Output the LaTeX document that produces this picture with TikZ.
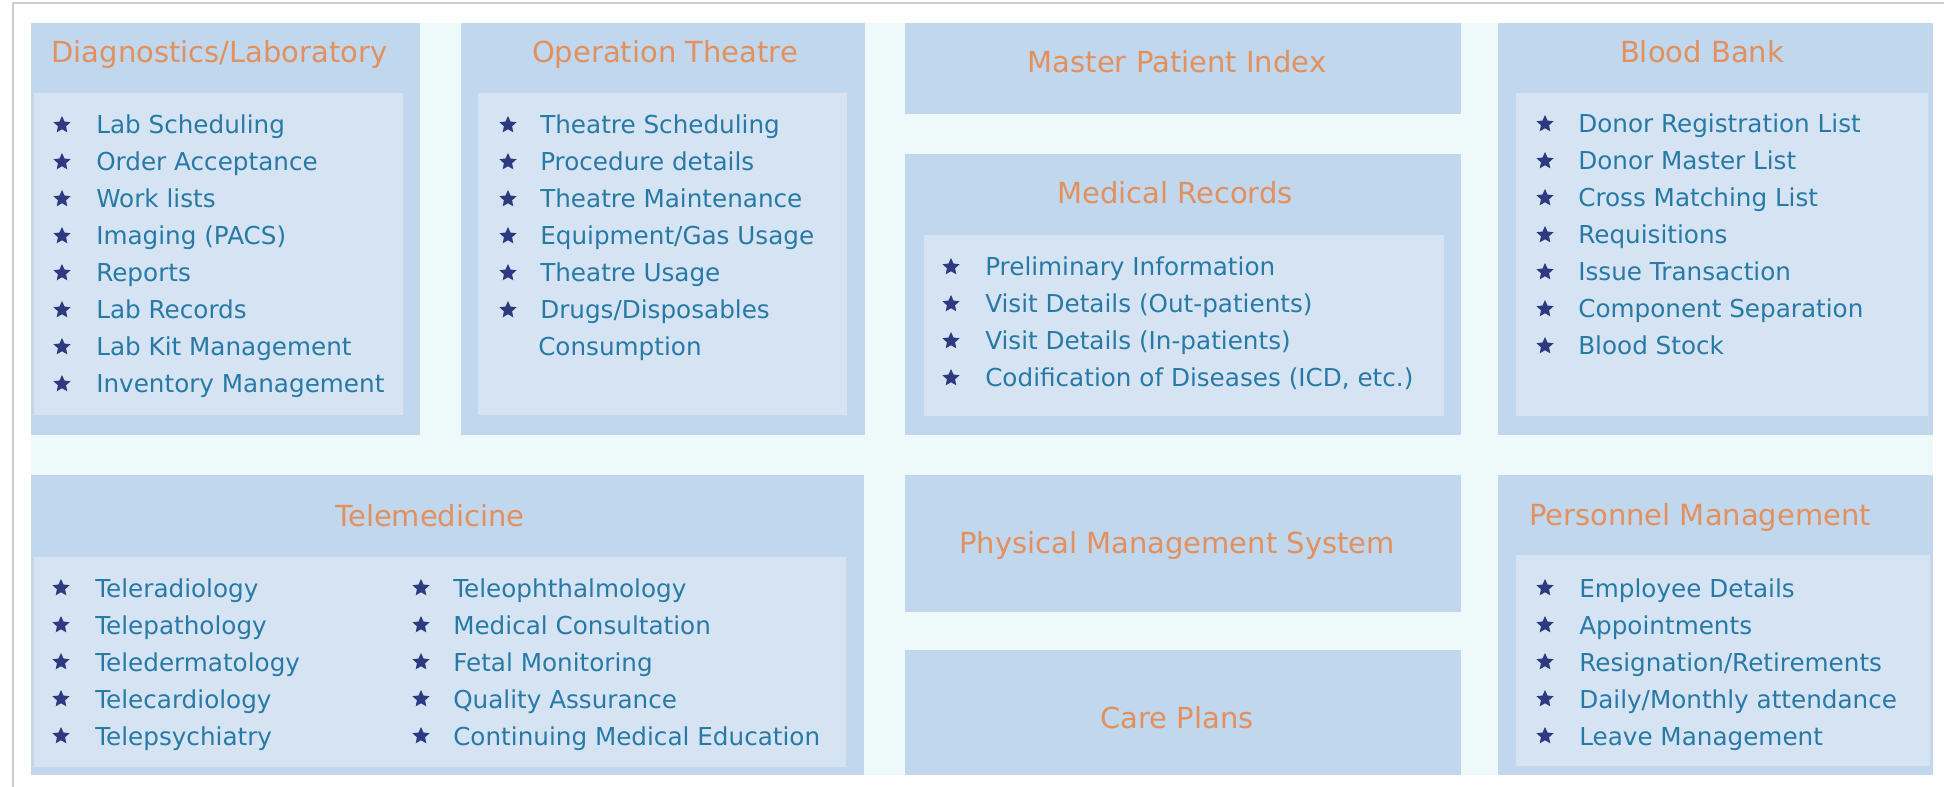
\documentclass[tikz,border=0pt]{standalone}
\usepackage{fontspec}
\setmainfont{DejaVu Sans}
\usetikzlibrary{shapes.geometric}
\definecolor{bgc}{RGB}{238,250,250}
\definecolor{panelc}{RGB}{193,215,237}
\definecolor{innerc}{RGB}{213,227,243}
\definecolor{titlec}{RGB}{226,144,94}
\definecolor{itemc}{RGB}{40,122,166}
\definecolor{starc}{RGB}{46,58,128}
\definecolor{framec}{RGB}{205,205,205}
\tikzset{
  panel/.style={fill=panelc},
  innerbox/.style={fill=innerc},
  titletext/.style={text=titlec, font=\fontsize{21.75pt}{26pt}\selectfont, anchor=base, inner sep=0pt},
  itemtext/.style={text=itemc, font=\fontsize{18.5pt}{22pt}\selectfont, anchor=base west, inner sep=0pt},
  bullet/.style={star, star points=5, star point ratio=2.1, fill=starc, draw=none, inner sep=0pt, minimum size=13.5pt},
}
\newcommand\itemcol[5]{%
  \foreach \t [count=\i from 0] in {#5}{
    \node[bullet] (#1s\i) at (#2,{#4+37*\i}) {};
    \node[itemtext] (#1t\i) at (#3,{#4+37*\i+9}) {\t};
  }}
\begin{document}
\begin{tikzpicture}[x=0.75pt,y=-0.75pt]
\useasboundingbox (0,0) rectangle (1944,787);
\fill[white] (0,0) rectangle (1944,787);
\draw[framec, line width=1.5pt] (13,787) -- (13,3) -- (1944,3);
\fill[bgc] (31,23) rectangle (1933,775);

% Diagnostics
\fill[panel] (31,23) rectangle (420,435);
\fill[innerbox] (34,93) rectangle (403,415);
\node[titletext] (diag) at (219.5,62.5) {Diagnostics/Laboratory};
\itemcol{d}{62}{96}{125}{Lab Scheduling,Order Acceptance,Work lists,Imaging (PACS),Reports,Lab Records,Lab Kit Management,Inventory Management}

% Operation Theatre
\fill[panel] (461,23) rectangle (865,435);
\fill[innerbox] (478,93) rectangle (847,415);
\node[titletext] (ot) at (665,62.5) {Operation Theatre};
\itemcol{o}{508}{540}{125}{Theatre Scheduling,Procedure details,Theatre Maintenance,Equipment/Gas Usage,Theatre Usage,Drugs/Disposables}
\node[itemtext] (ocons) at (538,356) {Consumption};

% Master Patient Index
\fill[panel] (905,23) rectangle (1461,114);
\node[titletext] (mpi) at (1177,72.5) {Master Patient Index};

% Medical Records
\fill[panel] (905,154) rectangle (1461,435);
\fill[innerbox] (924,235) rectangle (1444,416);
\node[titletext] (mr) at (1175,203.5) {Medical Records};
\itemcol{m}{951}{985}{267}{Preliminary Information,Visit Details (Out-patients),Visit Details (In-patients),{Codification of Diseases (ICD, etc.)}}

% Blood Bank
\fill[panel] (1498,23) rectangle (1933,435);
\fill[innerbox] (1516,93) rectangle (1928,416);
\node[titletext] (bb) at (1702,62.5) {Blood Bank};
\itemcol{b}{1545}{1578}{124}{Donor Registration List,Donor Master List,Cross Matching List,Requisitions,Issue Transaction,Component Separation,Blood Stock}

% Telemedicine
\fill[panel] (31,475) rectangle (864,775);
\fill[innerbox] (34,557) rectangle (846,767);
\node[titletext] (tele) at (430,526.5) {Telemedicine};
\itemcol{ta}{61}{95}{588}{Teleradiology,Telepathology,Teledermatology,Telecardiology,Telepsychiatry}
\itemcol{tb}{421}{453}{588}{Teleophthalmology,Medical Consultation,Fetal Monitoring,Quality Assurance,Continuing Medical Education}

% Physical Management System
\fill[panel] (905,475) rectangle (1461,612);
\node[titletext] (pms) at (1177,553.5) {Physical Management System};

% Care Plans
\fill[panel] (905,650) rectangle (1461,775);
\node[titletext] (cp) at (1177,728.5) {Care Plans};

% Personnel Management
\fill[panel] (1498,475) rectangle (1933,775);
\fill[innerbox] (1516,555) rectangle (1930,766);
\node[titletext] (pm) at (1700,525.5) {Personnel Management};
\itemcol{p}{1545}{1579}{588}{Employee Details,Appointments,Resignation/Retirements,Daily/Monthly attendance,Leave Management}
\end{tikzpicture}
\end{document}
